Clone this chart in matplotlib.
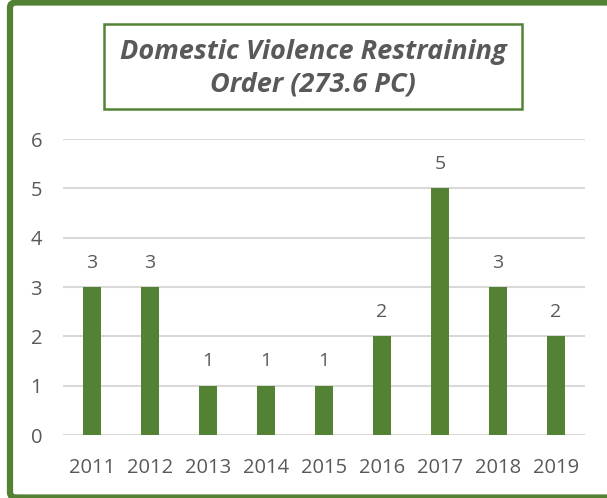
import matplotlib.pyplot as plt
from matplotlib.patches import Rectangle, FancyBboxPatch

years = ['2011', '2012', '2013', '2014', '2015', '2016', '2017', '2018', '2019']
counts = [3, 3, 1, 1, 1, 2, 5, 3, 2]

green = '#548235'
grey = '#595959'
plt.rcParams['font.family'] = ['Open Sans', 'DejaVu Sans']

fig = plt.figure(figsize=(6.07, 4.98), dpi=100)
ax = fig.add_axes([63 / 607, 63 / 498, 522 / 607, 296 / 498])

x = range(len(years))
bars = ax.bar(x, counts, width=0.31, color=green, zorder=3)
for b, v in zip(bars, counts):
    ax.annotate(str(v), (b.get_x() + b.get_width() / 2, v), xytext=(0, 11),
                textcoords='offset points', ha='center', va='bottom',
                fontsize=14, color=grey)

ax.set_xlim(-0.5, 8.5)
ax.set_ylim(0, 6)
ax.set_yticks(range(7))
ax.set_xticks(list(x))
ax.set_xticklabels(years)
ax.tick_params(axis='both', length=0, labelsize=14.5, labelcolor=grey)
ax.tick_params(axis='x', pad=16.5)
ax.tick_params(axis='y', pad=15)
ax.grid(axis='y', color='#d9d9d9', linewidth=1.5, zorder=0)
for s in ax.spines.values():
    s.set_visible(False)

# outer chart border
fig.patches.append(FancyBboxPatch((10 / 607, 0.5 / 498), 620 / 607, 495 / 498,
                                  boxstyle='round,pad=0,rounding_size=0.01',
                                  transform=fig.transFigure, fill=False,
                                  edgecolor=green, linewidth=4.5, zorder=10))
# title box
fig.patches.append(Rectangle((104 / 607, (498 - 109) / 498), 418 / 607, 85 / 498,
                             transform=fig.transFigure, fill=False,
                             edgecolor=green, linewidth=1.8, zorder=10))
fig.text(313 / 607, (498 - 68) / 498, 'Domestic Violence Restraining\nOrder (273.6 PC)',
         ha='center', va='center', fontsize=19.5, fontstyle='italic',
         fontweight='bold', color=grey, linespacing=1.3)

fig.savefig('out.png', dpi=100)
